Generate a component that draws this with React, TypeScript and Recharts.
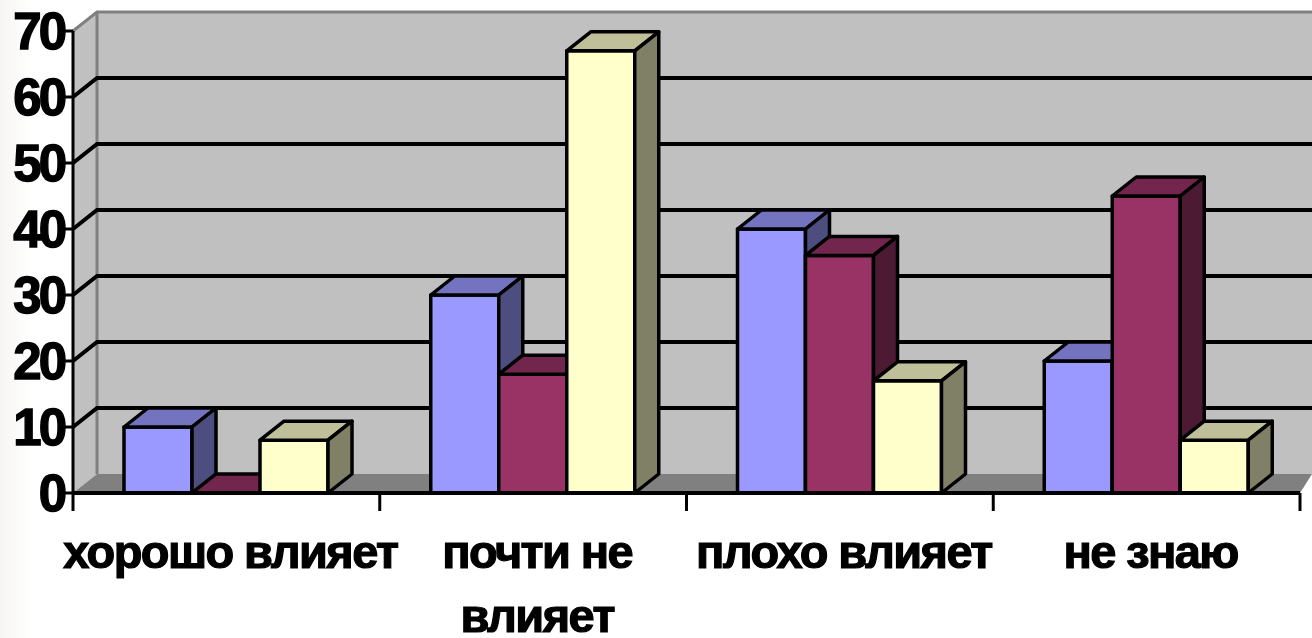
import { Bar, BarChart, CartesianGrid, ReferenceArea, XAxis, YAxis } from 'recharts';

const categories = [['хорошо влияет'], ['почти не', 'влияет'], ['плохо влияет'], ['не знаю']];
const seriesA = [10, 30, 40, 20];
const seriesB = [0, 18, 36, 45];
const seriesC = [8, 67, 17, 8];
const yTicks = [0, 10, 20, 30, 40, 50, 60, 70];

const WIDTH = 1312;
const HEIGHT = 638;
const MARGIN = { top: 31, right: 12, bottom: 0, left: 0 };
const AXIS_W = 73;
const AXIS_H = 145;
const DX = 24;
const DY = 19;
const BAND = (WIDTH - AXIS_W - MARGIN.right) / categories.length;

const chartData = categories.map((lines, i) => ({
  name: lines.join(' '),
  a: seriesA[i],
  b: seriesB[i],
  c: seriesC[i],
}));

function Walls({ x, y, width, height }: any) {
  const bottom = y + height;
  return (
    <g>
      <polygon
        points={`${x},${bottom} ${x},${y} ${x + DX},${y - DY} ${x + DX},${bottom - DY}`}
        fill="#c0c0c0"
      />
      <rect x={x + DX} y={y - DY} width={width - DX + 12} height={height} fill="#c0c0c0" />
      <polygon
        points={`${x},${bottom} ${x + DX},${bottom - DY} ${x + width + 12},${bottom - DY} ${x + width},${bottom}`}
        fill="#808080"
      />
      <path
        d={`M${x},${y} L${x + DX},${y - DY} L${x + width + 12},${y - DY} M${x + DX},${y - DY} L${x + DX},${bottom - DY}`}
        stroke="#808080"
        strokeWidth={3}
        fill="none"
      />
    </g>
  );
}

function GridLine({ x1, x2, y1, index }: any) {
  if (index === 0 || y1 < MARGIN.top + 1 || y1 > 480) return <g />;
  return (
    <path
      d={`M${x1},${y1} L${x1 + DX},${y1 - DY} L${x2 + 12},${y1 - DY}`}
      stroke="#000"
      strokeWidth={4}
      fill="none"
    />
  );
}

function Box3D({ x, y, width, height, fill, top, side }: any) {
  return (
    <g stroke="#000" strokeWidth={3.5} strokeLinejoin="round">
      <rect x={x} y={y} width={width} height={height} fill={fill} />
      <polygon
        points={`${x},${y} ${x + DX},${y - DY} ${x + width + DX},${y - DY} ${x + width},${y}`}
        fill={top}
      />
      <polygon
        points={`${x + width},${y} ${x + width + DX},${y - DY} ${x + width + DX},${y + height - DY} ${x + width},${y + height}`}
        fill={side}
      />
    </g>
  );
}

function CategoryTick({ x, y, index }: any) {
  const lines = categories[index];
  return (
    <g>
      <line x1={x - BAND / 2} x2={x - BAND / 2} y1={y - 8} y2={y + 10} stroke="#000" strokeWidth={3} />
      {index === categories.length - 1 && (
        <line x1={x + BAND / 2} x2={x + BAND / 2} y1={y - 8} y2={y + 10} stroke="#000" strokeWidth={3} />
      )}
      {lines.map((line: string, i: number) => (
        <text
          key={line}
          x={x + 4}
          y={568 + i * 64}
          textAnchor="middle"
          fontFamily="Liberation Sans"
          fontWeight="bold"
          fontSize={47}
          letterSpacing={-1.6}
          stroke="#000"
          strokeWidth={1.2}
          fill="#000"
        >
          {line}
        </text>
      ))}
    </g>
  );
}

function ValueTick({ x, y, payload }: any) {
  return (
    <text
      x={x + 1}
      y={y + 18}
      textAnchor="end"
      fontFamily="Liberation Sans"
      fontWeight="bold"
      fontSize={51}
      letterSpacing={-3}
      stroke="#000"
      strokeWidth={1.4}
      fill="#000"
    >
      {payload.value}
    </text>
  );
}

export default function App() {
  return (
    <div
      style={{
        position: 'absolute',
        left: 0,
        top: 0,
        width: WIDTH,
        height: HEIGHT,
        background: 'linear-gradient(90deg, #f6f5f3 0, #ffffff 32px)',
        filter: 'blur(0.6px)',
      }}
    >
      <BarChart
        width={WIDTH}
        height={HEIGHT}
        data={chartData}
        margin={MARGIN}
        barCategoryGap={51}
        barGap={0}
      >
        <ReferenceArea y1={0} y2={70} shape={<Walls />} ifOverflow="visible" zIndex={-200} />
        <CartesianGrid vertical={false} horizontal={(p: any) => <GridLine {...p} />} zIndex={-100} />
        <XAxis
          dataKey="name"
          interval={0}
          tickLine={false}
          axisLine={{ stroke: '#000', strokeWidth: 4 }}
          tick={(p: any) => <CategoryTick {...p} />}
          height={AXIS_H}
        />
        <YAxis
          domain={[0, 70]}
          ticks={yTicks}
          width={AXIS_W}
          tickSize={8}
          tickLine={{ stroke: '#000', strokeWidth: 3 }}
          axisLine={{ stroke: '#000', strokeWidth: 3 }}
          tick={(p: any) => <ValueTick {...p} />}
        />
        <Bar dataKey="a" isAnimationActive={false} shape={(p: any) => <Box3D {...p} fill="#9999ff" top="#7373bf" side="#4d4d80" />} />
        <Bar dataKey="b" isAnimationActive={false} shape={(p: any) => <Box3D {...p} fill="#993366" top="#73264d" side="#4d1a33" />} />
        <Bar dataKey="c" isAnimationActive={false} shape={(p: any) => <Box3D {...p} fill="#ffffcc" top="#bfbf99" side="#808066" />} />
      </BarChart>
    </div>
  );
}
